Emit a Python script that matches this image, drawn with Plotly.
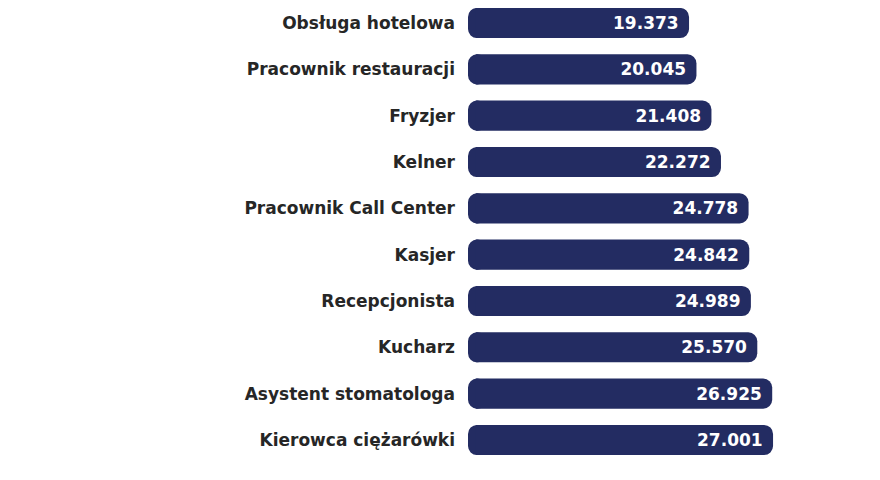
import plotly.graph_objects as go

# Zawody i wartości (od góry do dołu)
zawody = [
    "Obsługa hotelowa",
    "Pracownik restauracji",
    "Fryzjer",
    "Kelner",
    "Pracownik Call Center",
    "Kasjer",
    "Recepcjonista",
    "Kucharz",
    "Asystent stomatologa",
    "Kierowca ciężarówki",
]
wartosci = [19373, 20045, 21408, 22272, 24778, 24842, 24989, 25570, 26925, 27001]

NAVY = "#232c62"
CAP = 700  # zaokrąglony lewy koniec paska

fig = go.Figure()
# lewa "czapka" paska (schowana pod paskiem), żeby oba końce były zaokrąglone
fig.add_trace(go.Bar(
    x=[-(CAP + 1000)] * len(zawody),
    base=[1000] * len(zawody),
    y=zawody,
    orientation="h",
    marker=dict(color=NAVY, line=dict(width=0)),
    hoverinfo="skip",
))
fig.add_trace(go.Bar(
    x=wartosci,
    y=zawody,
    orientation="h",
    marker=dict(color=NAVY, line=dict(width=0)),
    texttemplate="%{x:,.0f}\u00a0",
    textposition="inside",
    insidetextanchor="end",
    textfont=dict(family="DejaVu Sans", size=17, color="white", weight="bold"),
    hoverinfo="skip",
))

fig.update_layout(
    width=880,
    height=480,
    margin=dict(l=460, r=0, t=0, b=20),
    paper_bgcolor="white",
    plot_bgcolor="white",
    separators=",.",
    barmode="overlay",
    bargap=0.35,
    barcornerradius=9,
    showlegend=False,
    font=dict(family="DejaVu Sans", size=17, color="#262626"),
)
fig.update_xaxes(range=[-CAP, 37440], visible=False, showgrid=False)
fig.update_yaxes(
    range=[9.605, -0.324],
    showgrid=False,
    showline=False,
    zeroline=False,
    ticks="",
    ticklabelstandoff=12,
    automargin=False,
    tickfont=dict(family="DejaVu Sans", size=17, color="#262626", weight="bold"),
)

fig.write_html("out.html")
